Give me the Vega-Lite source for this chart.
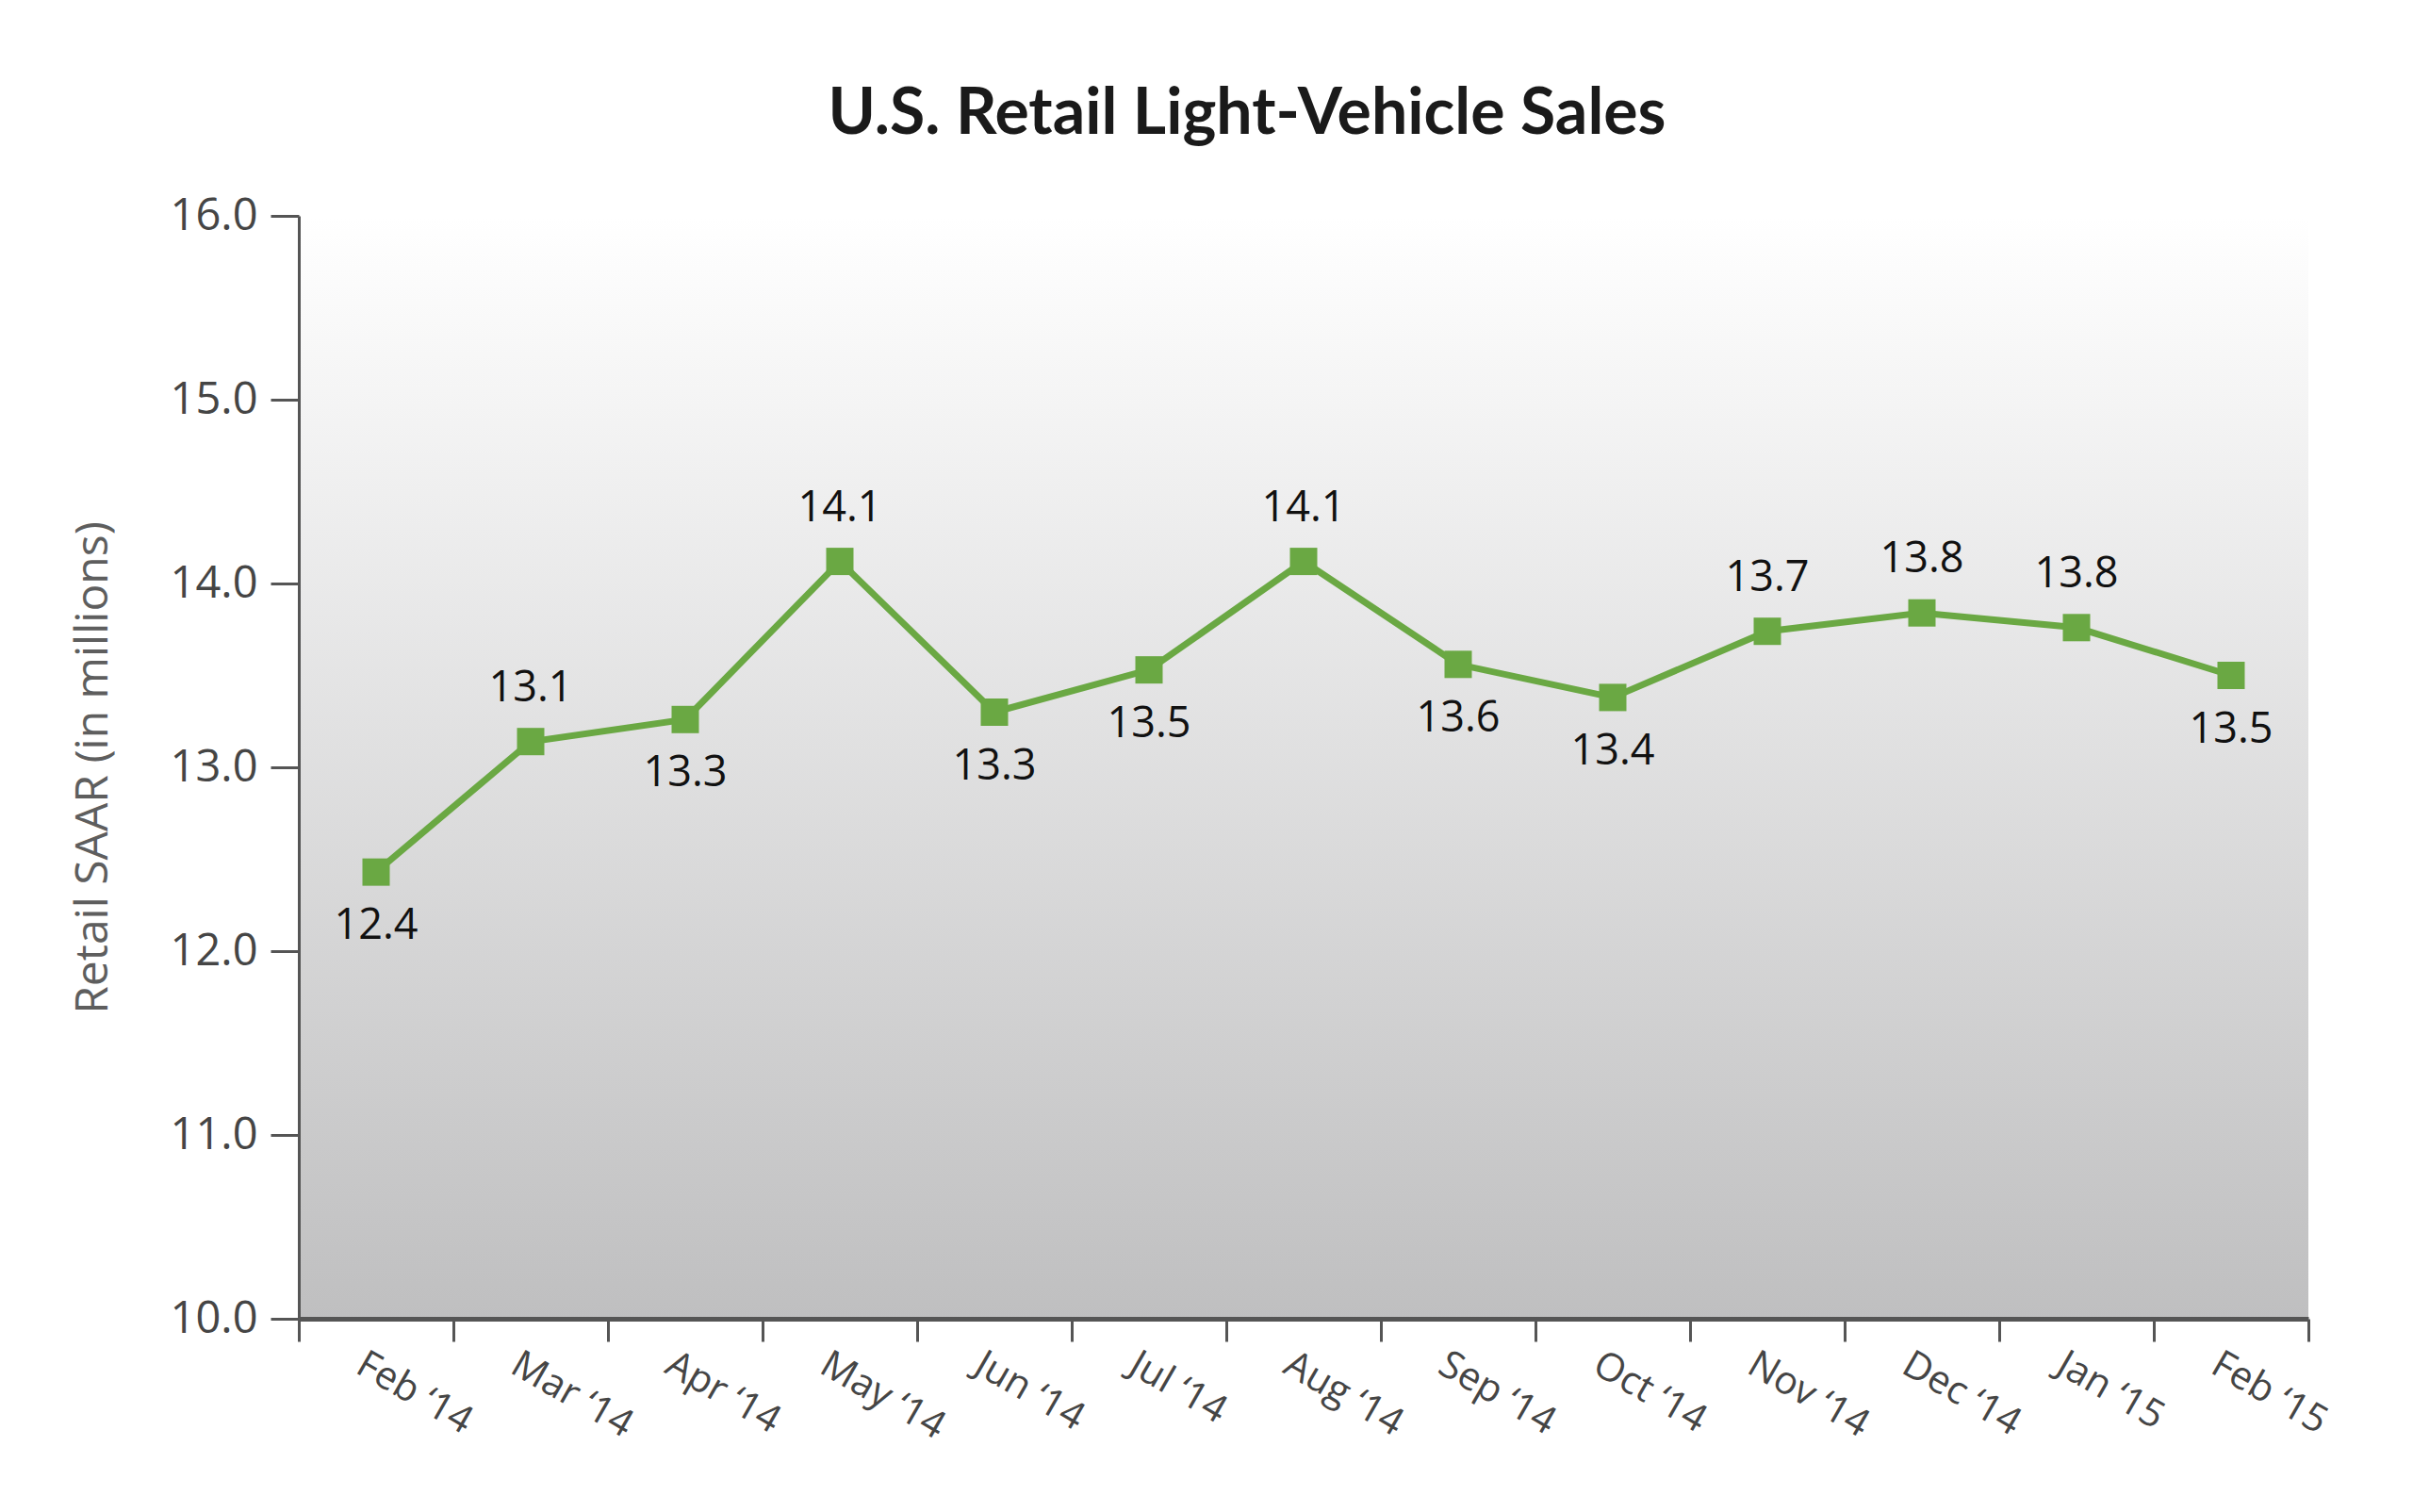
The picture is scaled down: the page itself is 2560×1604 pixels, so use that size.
{
  "$schema": "https://vega.github.io/schema/vega-lite/v6.json",
  "width": 2132,
  "height": 1170,
  "autosize": {"type": "none"},
  "padding": {"left": 317, "top": 229, "right": 111, "bottom": 205},
  "background": "#ffffff",
  "title": {
    "text": "U.S. Retail Light-Vehicle Sales",
    "font": "Lato",
    "fontSize": 68,
    "fontWeight": "bold",
    "color": "#1a1a1a",
    "anchor": "middle",
    "dx": -60,
    "dy": 91,
    "offset": 72,
    "baseline": "bottom"
  },
  "config": {
    "font": "Open Sans",
    "view": {
      "stroke": null,
      "fill": {
        "gradient": "linear",
        "x1": 0, "y1": 0, "x2": 0, "y2": 1,
        "stops": [
          {"offset": 0, "color": "#ffffff"},
          {"offset": 1, "color": "#bfbfc0"}
        ]
      }
    }
  },
  "data": {
    "values": [
      {"month": "Feb ‘14", "sales": 12.43},
      {"month": "Mar ‘14", "sales": 13.14},
      {"month": "Apr ‘14", "sales": 13.26},
      {"month": "May ‘14", "sales": 14.12},
      {"month": "Jun ‘14", "sales": 13.30},
      {"month": "Jul ‘14", "sales": 13.53},
      {"month": "Aug ‘14", "sales": 14.12},
      {"month": "Sep ‘14", "sales": 13.56},
      {"month": "Oct ‘14", "sales": 13.38},
      {"month": "Nov ‘14", "sales": 13.74},
      {"month": "Dec ‘14", "sales": 13.84},
      {"month": "Jan ‘15", "sales": 13.76},
      {"month": "Feb ‘15", "sales": 13.50}
    ]
  },
  "encoding": {
    "x": {
      "field": "month",
      "type": "nominal",
      "sort": null,
      "scale": {"type": "band", "paddingInner": 0, "paddingOuter": 0},
      "axis": {
        "title": null,
        "labelAngle": 30,
        "labelAlign": "left",
        "labelBaseline": "top",
        "labelFont": "Open Sans",
        "labelFontSize": 41,
        "labelColor": "#454545",
        "labelPadding": 4,
        "labelOffset": -8,
        "labelOverlap": false,
        "labelBound": false,
        "tickBand": "extent",
        "tickSize": 24,
        "tickWidth": 3,
        "tickColor": "#555555",
        "domainColor": "#555555",
        "domainWidth": 5,
        "grid": false
      }
    },
    "y": {
      "field": "sales",
      "type": "quantitative",
      "scale": {"domain": [10, 16], "nice": false, "zero": false},
      "axis": {
        "title": "Retail SAAR (in millions)",
        "titleFont": "Open Sans",
        "titleFontSize": 48,
        "titleFontWeight": "normal",
        "titleColor": "#5e5e5e",
        "titlePadding": 57,
        "values": [10, 11, 12, 13, 14, 15, 16],
        "format": ".1f",
        "labelFont": "Open Sans",
        "labelFontSize": 47,
        "labelColor": "#454545",
        "labelPadding": 14,
        "tickSize": 30,
        "tickWidth": 3,
        "tickColor": "#555555",
        "domainColor": "#555555",
        "domainWidth": 3,
        "grid": false
      }
    }
  },
  "layer": [
    {"mark": {"type": "line", "color": "#6aa843", "strokeWidth": 7}},
    {"mark": {"type": "point", "shape": "square", "filled": true, "size": 841, "color": "#6aa843", "opacity": 1}},
    {
      "transform": [{"filter": {"field": "month", "oneOf": ["Mar ‘14", "May ‘14", "Aug ‘14", "Nov ‘14", "Dec ‘14", "Jan ‘15"]}}],
      "mark": {"type": "text", "dy": -57, "baseline": "middle", "align": "center", "font": "Open Sans", "fontSize": 45, "color": "#111111"},
      "encoding": {"text": {"field": "sales", "type": "quantitative", "format": ".1f"}}
    },
    {
      "transform": [{"filter": {"not": {"field": "month", "oneOf": ["Mar ‘14", "May ‘14", "Aug ‘14", "Nov ‘14", "Dec ‘14", "Jan ‘15"]}}}],
      "mark": {"type": "text", "dy": 57, "baseline": "middle", "align": "center", "font": "Open Sans", "fontSize": 45, "color": "#111111"},
      "encoding": {"text": {"field": "sales", "type": "quantitative", "format": ".1f"}}
    }
  ]
}
